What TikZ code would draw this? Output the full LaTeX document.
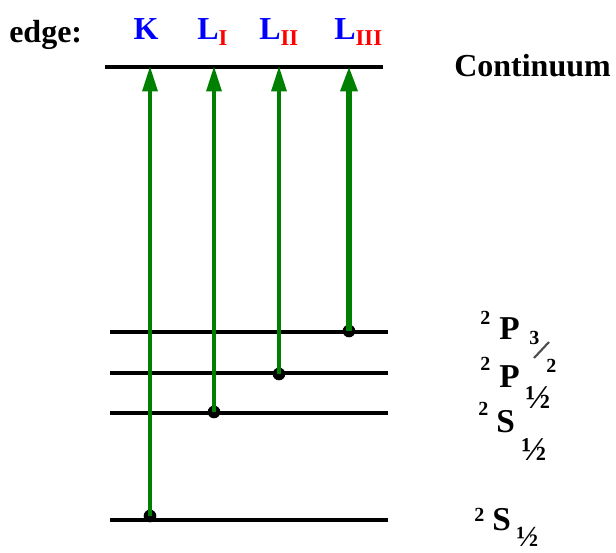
\documentclass[tikz,border=0pt]{standalone}
\usepackage{fontspec}
\setmainfont{Liberation Serif}
\usetikzlibrary{arrows.meta}
\definecolor{edgeblue}{RGB}{0,0,255}
\definecolor{edgered}{RGB}{255,0,0}
\definecolor{trgreen}{RGB}{0,128,0}
\tikzset{
  x=0.75pt, y=-0.75pt,
  level/.style={line width=3pt, black},
  contline/.style={line width=3.6pt, black},
  trans/.style={line width=3pt, trgreen, -{Triangle[length=19pt,width=11pt]}},
  transthick/.style={line width=4.5pt, trgreen, -{Triangle[length=19pt,width=12pt]}},
  startdot/.style={circle, fill=black, inner sep=0pt, minimum size=9.5pt},
  lbl/.style={inner sep=0pt, font=\fontsize{24}{28}\selectfont\bfseries},
  term/.style={inner sep=0pt, anchor=base west, font=\fontsize{25}{28}\selectfont\bfseries},
  supnum/.style={inner sep=0pt, anchor=base west, font=\fontsize{15}{17}\selectfont\bfseries},
  frac/.style={inner sep=0pt, anchor=base west, font=\fontsize{25}{28}\selectfont\bfseries},
}
\newcommand{\edgesub}[1]{\textcolor{edgered}{\fontsize{17}{20}\selectfont\raisebox{-4pt}{#1}}}
\begin{document}
\begin{tikzpicture}
\useasboundingbox (0,0) rectangle (616,552);
% levels
\draw[contline] (105,67) coordinate (c0) -- (383,67) coordinate (c1);
\draw[level] (110,332) coordinate (a0) -- (388,332) coordinate (a1);
\draw[level] (110,373) coordinate (b0) -- (388,373) coordinate (b1);
\draw[level] (110,413) coordinate (s0) -- (388,413) coordinate (s1);
\draw[level] (110,520) coordinate (k0) -- (388,520) coordinate (k1);
% start points
\node[startdot] (dK) at (150,516) {};
\node[startdot] (dL1) at (214,412) {};
\node[startdot] (dL2) at (279,374) {};
\node[startdot] (dL3) at (349,331) {};
% end points on continuum
\coordinate (eK) at (150,66);
\coordinate (eL1) at (214,66);
\coordinate (eL2) at (279,66);
\coordinate (eL3) at (349,66);
\draw[trans] (dK.center) -- (eK);
\draw[trans] (dL1.center) -- (eL1);
\draw[trans] (dL2.center) -- (eL2);
\draw[transthick] (dL3.center) -- (eL3);
% top labels
\node[lbl, anchor=base west] (edge) at (9,43) {edge:};
\node[lbl, anchor=base, text=edgeblue] (K) at (146,40) {K};
\node[lbl, anchor=base west, text=edgeblue] (L1) at (197,40) {L\edgesub{I}};
\node[lbl, anchor=base west, text=edgeblue] (L2) at (259,40) {L\edgesub{II}};
\node[lbl, anchor=base west, text=edgeblue] (L3) at (334,40) {L\edgesub{III}};
\node[lbl, anchor=base west] (cont) at (454,77) {Continuum};
% term symbols
\node[supnum] (m1) at (480,324) {2};
\node[term] (t1) at (499,339) {P};
\node[supnum] (n1) at (529,344) {3};
\node[supnum] (d1) at (546,372) {2};
\draw[line width=1.6pt, black!70] (534,358) -- (549,342);
\node[supnum] (m2) at (480,370) {2};
\node[term] (t2) at (499,387) {P};
\node[frac] (f2) at (525,408) {½};
\node[supnum] (m3) at (478,415) {2};
\node[term] (t3) at (496,432) {S};
\node[frac] (f3) at (521,460) {½};
\node[supnum] (m4) at (474,521) {2};
\node[term] (t4) at (492,530) {S};
\node[frac, font=\fontsize{22}{26}\selectfont\bfseries] (f4) at (516,546) {½};
\end{tikzpicture}
\end{document}
